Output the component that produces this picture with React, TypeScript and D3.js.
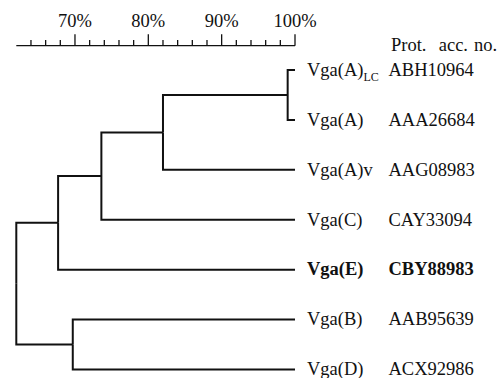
import React, { useRef, useEffect } from 'react';
import * as d3 from 'd3';

// leaves, top to bottom
const leafNames = ['Vga(A)', 'Vga(A)', 'Vga(A)v', 'Vga(C)', 'Vga(E)', 'Vga(B)', 'Vga(D)'];
const leafSubs = ['LC', '', '', '', '', '', ''];
const accessions = ['ABH10964', 'AAA26684', 'AAG08983', 'CAY33094', 'CBY88983', 'AAB95639', 'ACX92986'];
const boldLeaves = ['Vga(E)'];

// similarity (%) at which the clades join
const joinA = 99;
const joinAv = 82;
const joinC = 73.6;
const joinE = 67.7;
const joinBD = 69.7;
const joinRoot = 62;

const majorTicks = [70, 80, 90, 100];
const minorTicks = d3.range(64, 101, 2);

type Node = { name?: number; sim: number; children?: Node[] };

const leaf = (i: number): Node => ({ name: i, sim: 100 });

const treeData: Node = {
  sim: joinRoot,
  children: [
    {
      sim: joinE,
      children: [
        {
          sim: joinC,
          children: [
            { sim: joinAv, children: [{ sim: joinA, children: [leaf(0), leaf(1)] }, leaf(2)] },
            leaf(3),
          ],
        },
        leaf(4),
      ],
    },
    { sim: joinBD, children: [leaf(5), leaf(6)] },
  ],
};

const Dendrogram = () => {
  const ref = useRef<HTMLDivElement>(null);
  const width = 501;
  const height = 378;
  const top = 70;
  const bottom = 369.5;

  useEffect(() => {
    d3.select(ref.current).selectAll('*').remove();

    const svg = d3.select(ref.current)
      .append('svg')
      .attr('width', width)
      .attr('height', height)
      .style('display', 'block')
      .style('font-family', '"Liberation Serif", "Times New Roman", serif')
      .style('font-size', '18.5px');

    const x = d3.scaleLinear().domain([62, 100]).range([16.3, 295]);
    const axisY = 45.7;

    // Scale bar
    const axis = svg.append('g').attr('stroke', '#111').attr('stroke-width', 1.3);
    axis.append('line')
      .attr('x1', x(62)).attr('x2', x(100))
      .attr('y1', axisY).attr('y2', axisY);
    axis.selectAll('.minor')
      .data(minorTicks.filter(t => !majorTicks.includes(t)))
      .join('line')
      .attr('x1', d => x(d)).attr('x2', d => x(d))
      .attr('y1', axisY).attr('y2', axisY - 5.7);
    axis.selectAll('.major')
      .data(majorTicks)
      .join('line')
      .attr('x1', d => x(d)).attr('x2', d => x(d))
      .attr('y1', axisY).attr('y2', axisY - 11.4);
    svg.append('g')
      .selectAll('text')
      .data(majorTicks)
      .join('text')
      .attr('x', d => x(d))
      .attr('y', 26.7)
      .attr('text-anchor', 'middle')
      .attr('fill', '#111')
      .text(d => `${d}%`);

    // Tree layout: equally spaced leaves, parents at mean of children
    const root = d3.hierarchy(treeData);
    d3.cluster<Node>().size([1, 1]).separation(() => 1)(root);
    const leaves = root.leaves() as any[];
    const yScale = d3.scaleLinear()
      .domain(d3.extent(leaves, (d: any) => d.x) as [number, number])
      .range([top, bottom]);
    const yOf = (n: any) => yScale(n.x);

    const g = svg.append('g')
      .attr('fill', 'none')
      .attr('stroke', '#111')
      .attr('stroke-width', 2);

    root.descendants().forEach((n: any) => {
      if (!n.parent) return;
      const px = x(n.parent.data.sim);
      g.append('path')
        .attr('d', `M${px},${yOf(n.parent)}V${yOf(n)}H${x(n.data.sim)}`);
    });

    // Labels
    const labels = svg.append('g').attr('fill', '#111');
    leaves.forEach((n: any) => {
      const i = n.data.name;
      const y = yOf(n) + 5.8;
      const bold = boldLeaves.includes(leafNames[i]);
      const t = labels.append('text')
        .attr('x', 307)
        .attr('y', y)
        .attr('font-weight', bold ? 'bold' : 'normal')
        .text(leafNames[i]);
      if (leafSubs[i]) {
        t.append('tspan')
          .attr('dy', 5)
          .attr('font-size', '12px')
          .text(leafSubs[i]);
      }
      labels.append('text')
        .attr('x', 388.5)
        .attr('y', y)
        .attr('font-weight', bold ? 'bold' : 'normal')
        .text(accessions[i]);
    });

    svg.append('text')
      .attr('x', 391)
      .attr('y', 51)
      .attr('fill', '#111')
      .style('white-space', 'pre')
      .style('word-spacing', '1.5px')
      .text('Prot.  acc. no.');
  }, []);

  return <div ref={ref}></div>;
};

export default function App() {
  return (
    <div style={{ position: 'absolute', left: 0, top: 0, background: '#fff' }}>
      <Dendrogram />
    </div>
  );
}
